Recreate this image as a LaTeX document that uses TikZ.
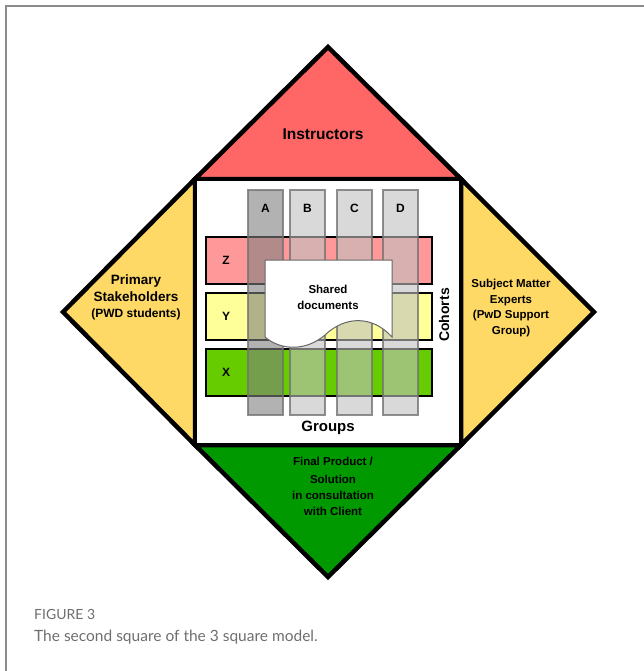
\documentclass[tikz,border=0pt]{standalone}
\usepackage{fontspec}
\setmainfont{Liberation Sans}
\newfontfamily\capfont{Lato}
\usetikzlibrary{positioning}
\definecolor{sqinstr}{HTML}{FF6666}
\definecolor{sqside}{HTML}{FFD966}
\definecolor{sqfinal}{HTML}{009900}
\definecolor{sqrowz}{HTML}{FF9999}
\definecolor{sqrowy}{HTML}{FFFF99}
\definecolor{sqrowx}{HTML}{66CC00}
\definecolor{sqbar}{HTML}{C0C0C0}
\definecolor{sqbardark}{HTML}{808080}
\definecolor{sqframe}{HTML}{8C8C8C}
\definecolor{sqcaption}{HTML}{6E6E6E}
\tikzset{
  every picture/.style={font=\bfseries},
  wedge/.style={draw=black,line width=4.5pt,line join=miter},
  cohort/.style={draw=black,line width=1.6pt},
  groupbar/.style={draw=black!55,line width=1.4pt,fill opacity=0.6,draw opacity=0.8},
  tag/.style={inner sep=0pt,font=\bfseries\fontsize{12}{14}\selectfont},
  wedge label/.style={align=center,inner sep=0pt},
}
\begin{document}
\begin{tikzpicture}[x=1pt,y=-1pt]
  \path[use as bounding box] (0,0) rectangle (644,671);
  \draw[sqframe,line width=1.5pt] (6,671) -- (6,6) -- (644,6);
  % the square and the four wedges round it
  \coordinate (nw) at (195,179);
  \coordinate (ne) at (461,179);
  \coordinate (se) at (461,445);
  \coordinate (sw) at (195,445);
  \coordinate (top) at (328,47);
  \coordinate (left) at (63,312);
  \coordinate (right) at (594,312);
  \coordinate (bottom) at (328,577);
  \draw[wedge,fill=sqinstr] (nw) -- (top) -- (ne) -- cycle;
  \draw[wedge,fill=sqside] (nw) -- (left) -- (sw) -- cycle;
  \draw[wedge,fill=sqside] (ne) -- (right) -- (se) -- cycle;
  \draw[wedge,fill=sqfinal] (sw) -- (bottom) -- (se) -- cycle;
  \draw[wedge,fill=white] (nw) rectangle (se);
  \node[wedge label,font=\bfseries\fontsize{15.5}{18}\selectfont] (instr) at (323,134) {Instructors};
  \node[wedge label,font=\bfseries\fontsize{13.5}{17}\selectfont] (primary) at (136,297)
    {Primary\\Stakeholders\\[-1pt]{\fontsize{12}{15}\selectfont (PWD students)}};
  \node[wedge label,font=\bfseries\fontsize{11.5}{15.5}\selectfont] (experts) at (511,308)
    {Subject Matter\\Experts\\(PwD Support\\Group)};
  \node[wedge label,font=\bfseries\fontsize{11.5}{16}\selectfont] (final) at (333,486)
    {Final Product /\\[2pt]Solution\\in consultation\\with Client};
  % cohorts across, groups down
  \foreach \r/\y/\c in {Z/237/sqrowz,Y/293/sqrowy,X/349/sqrowx} {
    \draw[cohort,fill=\c] (206,\y) rectangle (432,\y+47);
    \node[tag] (row-\r) at (226,\y+23.5) {\r};
  }
  \foreach \g/\x/\c in {A/248/sqbardark,B/290/sqbar,C/337/sqbar,D/383/sqbar} {
    \draw[groupbar,fill=\c] (\x,190) rectangle (\x+35,415);
    \node[tag] (col-\g) at (\x+17.5,208) {\g};
  }
  \draw[draw=black!60,line width=1pt,fill=white] (265,260) -- (392,260) -- (392,337)
    .. controls (372,315) and (345,316) .. (325,335)
    .. controls (305,352) and (280,350) .. (265,337) -- cycle;
  \node[wedge label,font=\bfseries\fontsize{11.5}{16}\selectfont] (shared) at (328,297) {Shared\\documents};
  \node[inner sep=0pt,rotate=90,font=\bfseries\fontsize{14}{16}\selectfont] (cohorts) at (444,315) {Cohorts};
  \node[inner sep=0pt,font=\bfseries\fontsize{15}{18}\selectfont] (groups) at (328,428) {Groups};
  % caption
  \node[anchor=west,inner sep=0pt,text=sqcaption,font=\capfont\fontsize{14}{16}\selectfont] (fig) at (34,614) {FIGURE 3};
  \node[anchor=west,inner sep=0pt,text=sqcaption,font=\capfont\fontsize{15.5}{20}\selectfont] (caption) at (34,637) {The second square of the 3 square model.};
\end{tikzpicture}
\end{document}
